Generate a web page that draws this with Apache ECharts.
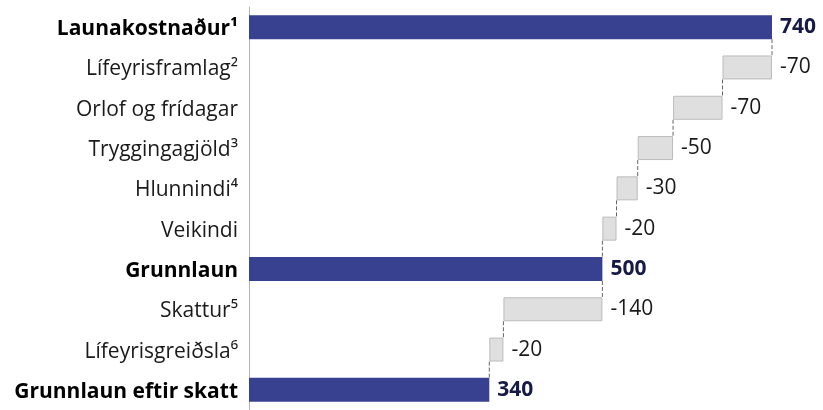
<!DOCTYPE html>
<html>
<head>
<meta charset="utf-8">
<script src="https://cdn.jsdelivr.net/npm/echarts@6/dist/echarts.min.js"></script>
<style>html,body{margin:0;padding:0;background:#fff}#c{width:823px;height:410px}</style>
</head>
<body>
<div id="c"></div>
<script>
var categories = ['Launakostnaður¹','Lífeyrisframlag²','Orlof og frídagar','Tryggingagjöld³','Hlunnindi⁴','Veikindi','Grunnlaun','Skattur⁵','Lífeyrisgreiðsla⁶','Grunnlaun eftir skatt'];
var values = [740, -70, -70, -50, -30, -20, 500, -140, -20, 340];
var isTotal = [true, false, false, false, false, false, true, false, false, true];

var baseData = [], barData = [], levels = [];
var running = 0;
for (var i = 0; i < values.length; i++) {
  if (isTotal[i]) {
    running = values[i];
    baseData.push(0);
    barData.push({value: values[i], itemStyle: {color: '#37418f', borderWidth: 0}, label: {formatter: String(values[i]), fontWeight: 'bold', color: '#161a45'}});
  } else {
    running = running + values[i];
    baseData.push(running);
    barData.push({value: -values[i], label: {formatter: String(values[i])}});
  }
  levels.push(running);
}
var connData = [];
for (var j = 0; j < values.length - 1; j++) connData.push([levels[j], j]);

var chart = echarts.init(document.getElementById('c'));
chart.setOption({
  animation: false,
  grid: {left: 249, right: 51, top: 7, bottom: -6, containLabel: false},
  xAxis: {type: 'value', min: 0, max: 740, show: false},
  yAxis: {
    type: 'category', data: categories, inverse: true,
    axisLine: {show: true, lineStyle: {color: '#b5b5b5', width: 1}},
    axisTick: {show: false},
    axisLabel: {
      margin: 11, fontFamily: 'Open Sans', fontSize: 21, color: '#1a1a1a', padding: [4, 0, 0, 0],
      formatter: function (v, idx) { return isTotal[idx] ? '{b|' + v + '}' : v; },
      rich: {b: {fontFamily: 'Open Sans', fontSize: 21, fontWeight: 'bold', color: '#000'}}
    }
  },
  series: [
    {type: 'bar', stack: 'w', data: baseData, itemStyle: {color: 'transparent'}, barWidth: 24, silent: true},
    {type: 'bar', stack: 'w', data: barData, barWidth: 24,
      itemStyle: {color: '#dfdfdf', borderColor: '#bcbcbc', borderWidth: 1},
      label: {show: true, position: 'right', distance: 8, fontFamily: 'Open Sans', fontSize: 21, color: '#1a1a1a', padding: [3, 0, 0, 0]}},
    {type: 'custom', data: connData, silent: true, z: 5,
      renderItem: function (params, api) {
        var x = api.value(0), r = api.value(1);
        var p1 = api.coord([x, r]);
        var p2 = api.coord([x, r + 1]);
        return {type: 'line', shape: {x1: p1[0], y1: p1[1] + 12, x2: p2[0], y2: p2[1] - 12},
          style: {stroke: '#666', lineWidth: 1, lineDash: [4, 2]}};
      }}
  ]
});
</script>
</body>
</html>
